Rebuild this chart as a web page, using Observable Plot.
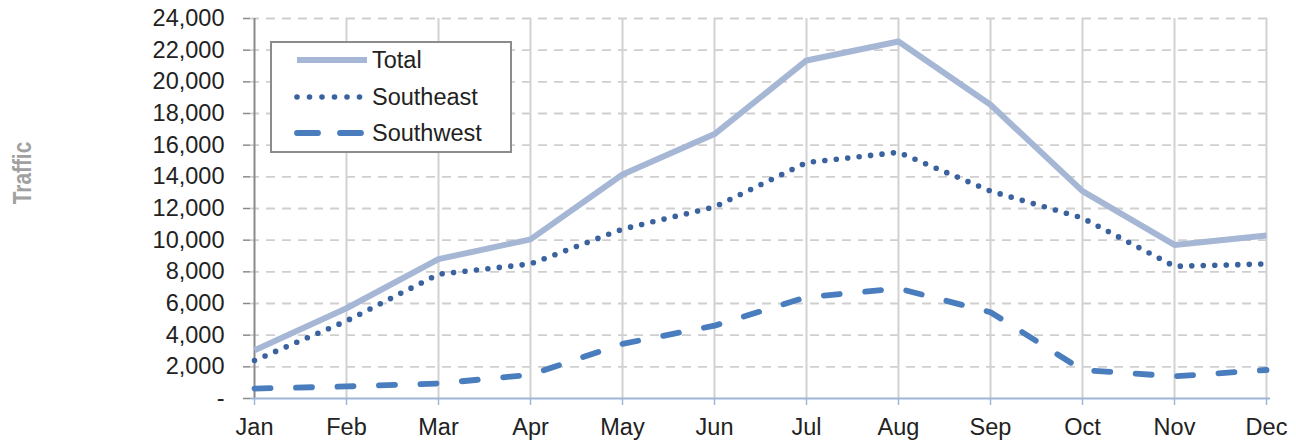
<!DOCTYPE html>
<html>
<head>
<meta charset="utf-8">
<script src="https://cdn.jsdelivr.net/npm/d3@7"></script>
<script src="https://cdn.jsdelivr.net/npm/@observablehq/plot@0.6"></script>
<style>
  html, body { margin: 0; padding: 0; background: #fff; }
  #wrap { position: relative; width: 1296px; height: 442px; }
  #legend { position: absolute; left: 270px; top: 41px; width: 238px; height: 108px;
            border: 2px solid #8c8c8c; background: #fff; font-family: "Liberation Sans", Arial, sans-serif;
            font-size: 23.5px; color: #222; }
  #ytitle { position: absolute; left: -38px; top: 158px; width: 120px; height: 30px; line-height: 30px;
            text-align: center; transform: rotate(-90deg) scaleX(0.8); transform-origin: 50% 50%;
            font-family: "Liberation Sans", Arial, sans-serif;
            font-weight: bold; font-size: 26px; color: #a0a0a0; }
</style>
</head>
<body>
<div id="wrap"></div>
<script>
const months = ["Jan","Feb","Mar","Apr","May","Jun","Jul","Aug","Sep","Oct","Nov","Dec"];
const total     = [3050, 5700, 8800, 10050, 14150, 16700, 21350, 22550, 18550, 13100, 9700, 10300];
const southeast = [2400, 4900, 7850, 8500, 10700, 12100, 14900, 15550, 13100, 11400, 8350, 8500];
const southwest = [630, 760, 950, 1500, 3450, 4600, 6400, 6950, 5450, 1800, 1400, 1800];
const yTicks = [0,2000,4000,6000,8000,10000,12000,14000,16000,18000,20000,22000,24000];
const seriesNames = ["Total","Southeast","Southwest"];

const rows = [];
months.forEach((m,i) => {
  rows.push({month:m, series:"Total", value: total[i]});
  rows.push({month:m, series:"Southeast", value: southeast[i]});
  rows.push({month:m, series:"Southwest", value: southwest[i]});
});
const styles = {
  Total:     {stroke:"#a6b7d5", strokeWidth:6, strokeDasharray:null, strokeLinecap:"butt"},
  Southeast: {stroke:"#3a629e", strokeWidth:5.6, strokeDasharray:"0,11.5", strokeLinecap:"round"},
  Southwest: {stroke:"#4a7dbd", strokeWidth:5.8, strokeDasharray:"16,25.5", strokeLinecap:"round"}
};
const fmt = d => d === 0 ? "-" : d3.format(",")(d);

const chart = Plot.plot({
  width: 1296, height: 442,
  marginLeft: 250, marginRight: 26, marginTop: 18, marginBottom: 44,
  style: {fontFamily: "Liberation Sans, Arial, sans-serif", fontSize: "23.5px", color: "#222", background: "#fff"},
  x: {type: "point", domain: months, padding: 0, label: null},
  y: {domain: [0, 24000], label: null},
  marks: [
    Plot.ruleY(yTicks.slice(1), {y: d => d, stroke: "#cfcfcf", strokeWidth: 1.8, strokeDasharray: "9,7", strokeOpacity: 1}),
    Plot.ruleX(months.slice(1), {x: d => d, stroke: "#d2d2d2", strokeWidth: 2, strokeOpacity: 1}),
    Plot.axisY(yTicks, {tickSize: 7, tickPadding: 19, stroke: "#8a8a8a", strokeWidth: 1.5, tickFormat: fmt, fontSize: 23.5, fill: "#222"}),
    Plot.axisX(months, {tickSize: 7, tickPadding: 13, stroke: "#9fb5d6", strokeWidth: 1.5, fontSize: 23.5, fill: "#222"}),
    Plot.ruleX([months[0]], {x: d => d, stroke: "#8a8a8a", strokeWidth: 2, strokeOpacity: 1}),
    Plot.ruleY([0], {y: d => d, stroke: "#9fb5d6", strokeWidth: 2, strokeOpacity: 1}),
    ...seriesNames.slice().reverse().map(s => Plot.line(rows.filter(r => r.series === s), {
      x: "month", y: "value",
      stroke: styles[s].stroke, strokeWidth: styles[s].strokeWidth,
      strokeDasharray: styles[s].strokeDasharray, strokeLinecap: styles[s].strokeLinecap,
      strokeLinejoin: "round", curve: "linear"
    }))
  ]
});
const wrap = document.getElementById("wrap");
wrap.appendChild(chart);

const yt = document.createElement("div");
yt.id = "ytitle";
yt.textContent = "Traffic";
wrap.appendChild(yt);

const lg = document.createElement("div");
lg.id = "legend";
const rowTops = [17, 54, 90];
seriesNames.forEach((s, i) => {
  const st = styles[s];
  const r = document.createElement("div");
  r.style.cssText = `position:absolute;left:0;top:${rowTops[i] - 16}px;height:32px;width:236px;`;
  r.innerHTML = `<svg width="100" height="32" style="position:absolute;left:0;top:0">
    <line x1="25" x2="${s === "Southeast" ? 97 : 95}" y1="16" y2="16" stroke="${st.stroke}" stroke-width="${st.strokeWidth}"
      stroke-linecap="${st.strokeLinecap}" ${st.strokeDasharray ? `stroke-dasharray="${s === "Southwest" ? "21,22" : "0,12.5"}"` : ""}/>
    </svg><span style="position:absolute;left:100px;top:2px;line-height:28px">${s}</span>`;
  lg.appendChild(r);
});
wrap.appendChild(lg);
</script>
</body>
</html>
